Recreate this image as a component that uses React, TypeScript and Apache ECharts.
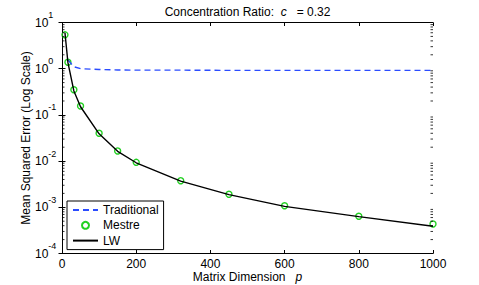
import React, { useEffect, useRef } from "react";
import * as echarts from "echarts";

// ---- data ----
const pValues = [8, 16, 32, 50, 100, 150, 200, 320, 450, 600, 800, 1000];
const mestreMSE = [5.4, 1.38, 0.35, 0.156, 0.04, 0.0166, 0.0094, 0.00377, 0.00191, 0.00108, 0.00064, 0.000435];
const lwMSE = [6.0, 1.35, 0.33, 0.15, 0.039, 0.0163, 0.0092, 0.0037, 0.00188, 0.00105, 0.00063, 0.00039];
const tradP = [16, 32, 50, 100, 150, 200, 320, 450, 600, 800, 1000];
const tradMSE = [1.55, 1.1, 1.0, 0.96, 0.94, 0.93, 0.93, 0.92, 0.92, 0.92, 0.92];
const seriesNames = ["Traditional", "Mestre", "LW"];
const titleParts = ["Concentration Ratio:  ", "c", "   = 0.32"];
const xLabelParts = ["Matrix Dimension   ", "p"];
const yLabel = "Mean Squared Error (Log Scale)";
const xMin = 0;
const xMax = 1000;
const xInterval = 200;
const yMin = 0.0001;
const yMax = 10;
const minorDecades = [-4, -3, -2, -1, 0];
const minorMultipliers = [2, 3, 4, 5, 6, 7, 8, 9];

const FONT = "'Liberation Sans', Arial, Helvetica, sans-serif";

export default function App() {
  const ref = useRef<HTMLDivElement>(null);
  useEffect(() => {
    if (!ref.current) return;
    const chart = echarts.init(ref.current, null, { renderer: "svg" });

    const minorData: number[][] = [];
    minorDecades.forEach((d) =>
      minorMultipliers.forEach((m) => minorData.push([xMin, m * Math.pow(10, d)]))
    );

    const yLabelFmt = (v: number) => {
      const e = Math.round(Math.log10(v));
      return "{b|10}{s|" + e + "}";
    };

    const axisLineStyle = { color: "#000", width: 1 };

    chart.setOption({
      animation: false,
      backgroundColor: "#fff",
      textStyle: { fontFamily: FONT },
      grid: {
        left: 62,
        right: 46,
        top: 22.5,
        bottom: 31.5,
        containLabel: false,
        outerBoundsMode: "none",
      },
      legend: {
        data: [
          { name: seriesNames[0], itemStyle: { opacity: 0 } },
          { name: seriesNames[1] },
          { name: seriesNames[2], itemStyle: { opacity: 0 } },
        ],
        orient: "vertical",
        left: 67,
        top: 201,
        padding: [3, 5, 3, 5],
        itemGap: 3.3,
        itemWidth: 25,
        itemHeight: 7,
        borderColor: "#000",
        borderWidth: 1,
        borderRadius: 0,
        backgroundColor: "#fff",
        textStyle: { fontSize: 12, color: "#000", fontFamily: FONT, lineHeight: 12 },
      },
      xAxis: [
        {
          type: "value",
          min: xMin,
          max: xMax,
          interval: xInterval,
          position: "bottom",
          axisLine: { show: true, lineStyle: axisLineStyle },
          axisTick: { show: true, inside: true, length: 3.5, lineStyle: axisLineStyle },
          axisLabel: { fontSize: 12, color: "#000", margin: 4, fontFamily: FONT, formatter: (v: number) => String(v) },
          splitLine: { show: false },
          name: "{n|" + xLabelParts[0] + "}{i|" + xLabelParts[1] + "}",
          nameLocation: "middle",
          nameGap: 17,
          nameMoveOverlap: false,
          nameTextStyle: {
            color: "#000",
            fontSize: 12,
            rich: {
              n: { fontSize: 12, color: "#000", fontFamily: FONT },
              i: { fontSize: 12, color: "#000", fontFamily: FONT, fontStyle: "italic" },
            },
          },
        },
        {
          type: "value",
          min: xMin,
          max: xMax,
          interval: xInterval,
          position: "top",
          axisLine: { show: true, lineStyle: axisLineStyle },
          axisTick: { show: true, inside: true, length: 3.5, lineStyle: axisLineStyle },
          axisLabel: { show: false },
          splitLine: { show: false },
          name: "{n|" + titleParts[0] + "}{i|" + titleParts[1] + "}{n|" + titleParts[2] + "}",
          nameLocation: "middle",
          nameGap: 5,
          nameMoveOverlap: false,
          nameTextStyle: {
            color: "#000",
            fontSize: 12,
            rich: {
              n: { fontSize: 12, color: "#000", fontFamily: FONT },
              i: { fontSize: 12, color: "#000", fontFamily: FONT, fontStyle: "italic" },
            },
          },
        },
      ],
      yAxis: [
        {
          type: "log",
          logBase: 10,
          min: yMin,
          max: yMax,
          position: "left",
          axisLine: { show: true, lineStyle: axisLineStyle },
          axisTick: { show: true, inside: true, length: 3.5, lineStyle: axisLineStyle },
          axisLabel: {
            align: "left",
            margin: 27,
            formatter: yLabelFmt,
            rich: {
              b: { fontSize: 12, lineHeight: 24, color: "#000", fontFamily: FONT, verticalAlign: "middle" },
              s: { fontSize: 9, lineHeight: 9, color: "#000", fontFamily: FONT, verticalAlign: "top" },
            },
          },
          splitLine: { show: false },
          name: yLabel,
          nameLocation: "middle",
          nameGap: 30,
          nameMoveOverlap: false,
          nameTextStyle: { color: "#000", fontSize: 12, fontFamily: FONT },
        },
        {
          type: "log",
          logBase: 10,
          min: yMin,
          max: yMax,
          position: "right",
          axisLine: { show: true, lineStyle: axisLineStyle },
          axisTick: { show: true, inside: true, length: 3.5, lineStyle: axisLineStyle },
          axisLabel: { show: false },
          splitLine: { show: false },
        },
      ],
      series: [
        {
          name: "Traditional",
          type: "line",
          data: tradP.map((p, i) => [p, tradMSE[i]]),
          symbol: "none",
          lineStyle: { color: "#2b4cff", width: 1.4, type: [6, 4] },
          itemStyle: { color: "#2b4cff" },
          z: 3,
        },
        {
          name: "Mestre",
          type: "scatter",
          data: pValues.map((p, i) => [p, mestreMSE[i]]),
          symbol: "circle",
          symbolSize: 6,
          itemStyle: { color: "rgba(0,0,0,0)", borderColor: "#22d022", borderWidth: 1.4, opacity: 1 },
          z: 2,
        },
        {
          name: "LW",
          type: "line",
          data: pValues.map((p, i) => [p, lwMSE[i]]),
          symbol: "none",
          lineStyle: { color: "#000", width: 1.4 },
          itemStyle: { color: "#000" },
          z: 4,
        },
        {
          name: "minorTicks",
          type: "custom",
          data: minorData,
          silent: true,
          clip: false,
          z: 5,
          renderItem: (params: any, api: any) => {
            const v = api.value(1);
            const l = api.coord([xMin, v]);
            const r = api.coord([xMax, v]);
            return {
              type: "group",
              children: [
                { type: "line", shape: { x1: l[0], y1: l[1], x2: l[0] + 2.5, y2: l[1] }, style: { stroke: "#000", lineWidth: 0.8 } },
                { type: "line", shape: { x1: r[0], y1: r[1], x2: r[0] - 2.5, y2: r[1] }, style: { stroke: "#000", lineWidth: 0.8 } },
              ],
            };
          },
        },
      ],
    });
    return () => chart.dispose();
  }, []);
  return (
    <div
      ref={ref}
      style={{ position: "fixed", left: 0, top: 0, width: 479, height: 285 }}
    />
  );
}
